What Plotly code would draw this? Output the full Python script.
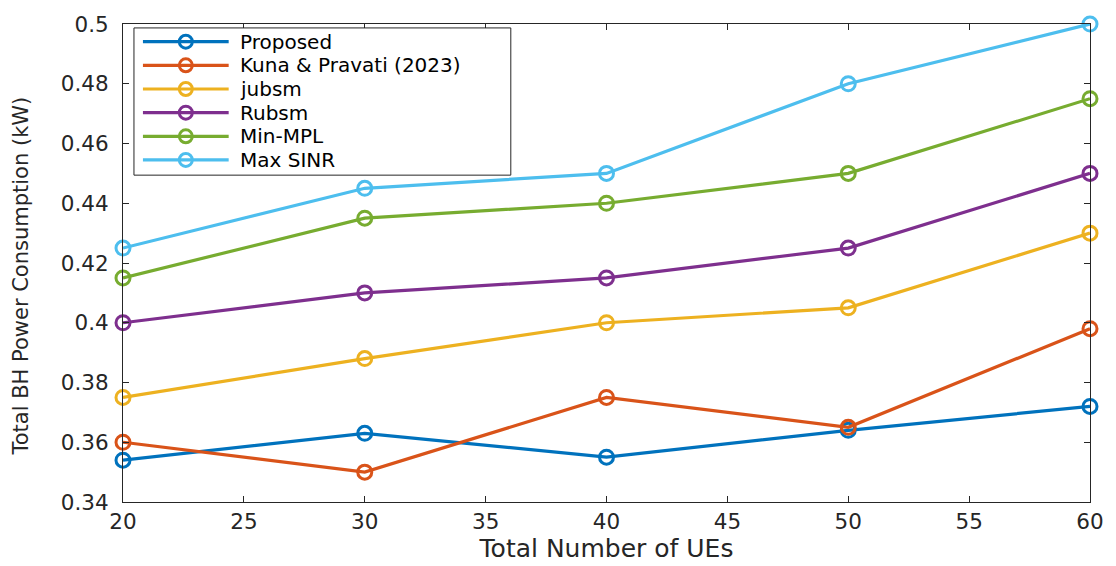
import plotly.graph_objects as go

# Number of UEs on the x axis
num_ues = [20, 30, 40, 50, 60]

# Total backhaul power consumption (kW) for each scheme
proposed = [0.354, 0.363, 0.355, 0.364, 0.372]
kuna_pravati = [0.360, 0.350, 0.375, 0.365, 0.398]
jubsm = [0.375, 0.388, 0.400, 0.405, 0.430]
rubsm = [0.400, 0.410, 0.415, 0.425, 0.450]
min_mpl = [0.415, 0.435, 0.440, 0.450, 0.475]
max_sinr = [0.425, 0.445, 0.450, 0.480, 0.500]

series_names = ["Proposed", "Kuna & Pravati (2023)", "jubsm", "Rubsm", "Min-MPL", "Max SINR"]
series_values = [proposed, kuna_pravati, jubsm, rubsm, min_mpl, max_sinr]
series_colors = ["#0072BD", "#D95319", "#EDB120", "#7E2F8E", "#77AC30", "#4DBEEE"]

x_ticks = [20, 25, 30, 35, 40, 45, 50, 55, 60]
y_ticks = [0.34, 0.36, 0.38, 0.40, 0.42, 0.44, 0.46, 0.48, 0.50]
y_tick_labels = ["0.34", "0.36", "0.38", "0.4", "0.42", "0.44", "0.46", "0.48", "0.5"]

FONT = "DejaVu Sans, Liberation Sans, Arial, sans-serif"
AXIS_COLOR = "#262626"

# Figure and plot-area geometry (pixels)
W, H = 1116, 566
ML, MR, MT, MB = 123, 23, 17, 62
PLOT_W = W - ML - MR
PLOT_H = H - MT - MB


def px_x(px):
    """Horizontal pixel position -> paper coordinate."""
    return (px - ML) / PLOT_W


def px_y(py):
    """Vertical pixel position (from top) -> paper coordinate."""
    return 1 - (py - MT) / PLOT_H


fig = go.Figure()
for name, vals, color in zip(series_names, series_values, series_colors):
    fig.add_trace(go.Scatter(
        x=num_ues, y=vals, name=name, mode="lines+markers",
        line=dict(color=color, width=3.2),
        marker=dict(symbol="circle-open", size=14, color=color, line=dict(width=3, color=color)),
        cliponaxis=False, showlegend=False,
    ))

# Boxed legend in the upper-left corner of the axes
LEG_LEFT, LEG_RIGHT, LEG_TOP, LEG_BOTTOM = 134, 512, 21, 171
ROW0, ROW_STEP = 35, 24.1
SAMPLE_X0, SAMPLE_X1, TEXT_X = 143, 229, 238
MARK_R = 6.5

shapes = [dict(
    type="rect", xref="paper", yref="paper", layer="above",
    x0=px_x(LEG_LEFT), x1=px_x(LEG_RIGHT), y0=px_y(LEG_BOTTOM), y1=px_y(LEG_TOP),
    fillcolor="white", line=dict(color=AXIS_COLOR, width=1),
)]
annotations = []
for i, (name, color) in enumerate(zip(series_names, series_colors)):
    row_y = px_y(ROW0 + i * ROW_STEP)
    shapes.append(dict(
        type="line", xref="paper", yref="paper", layer="above",
        x0=px_x(SAMPLE_X0), x1=px_x(SAMPLE_X1), y0=row_y, y1=row_y,
        line=dict(color=color, width=3.2),
    ))
    shapes.append(dict(
        type="circle", xref="paper", yref="paper", layer="above",
        xsizemode="pixel", ysizemode="pixel",
        xanchor=px_x((SAMPLE_X0 + SAMPLE_X1) / 2), yanchor=row_y,
        x0=-MARK_R, x1=MARK_R, y0=-MARK_R, y1=MARK_R,
        line=dict(color=color, width=3),
    ))
    annotations.append(dict(
        text=name, xref="paper", yref="paper", x=px_x(TEXT_X), y=row_y,
        xanchor="left", yanchor="middle", showarrow=False,
        font=dict(family=FONT, size=20, color="#000000"),
    ))

# Y-axis label, placed as rotated text left of the tick labels
annotations.append(dict(
    text="Total BH Power Consumption (kW)", xref="paper", yref="paper",
    x=px_x(21), y=px_y(274), xanchor="center", yanchor="middle",
    textangle=-90, showarrow=False,
    font=dict(family=FONT, size=21, color=AXIS_COLOR),
))

axis_common = dict(
    showline=True, linecolor=AXIS_COLOR, linewidth=1, mirror="ticks",
    ticks="inside", ticklen=6, tickcolor=AXIS_COLOR, tickwidth=1,
    showgrid=False, zeroline=False,
    tickfont=dict(family=FONT, size=21.5, color=AXIS_COLOR),
)

fig.update_xaxes(
    range=[20, 60], tickvals=x_ticks,
    title=dict(text="Total Number of UEs", font=dict(family=FONT, size=25, color=AXIS_COLOR), standoff=3),
    **axis_common,
)
fig.update_yaxes(
    range=[0.34, 0.50], tickvals=y_ticks, ticktext=y_tick_labels, ticklabelstandoff=9,
    **axis_common,
)

fig.update_layout(
    width=W, height=H,
    margin=dict(l=ML, r=MR, t=MT, b=MB),
    paper_bgcolor="white", plot_bgcolor="white",
    showlegend=False,
    shapes=shapes,
    annotations=annotations,
)

fig.write_html("out.html")
